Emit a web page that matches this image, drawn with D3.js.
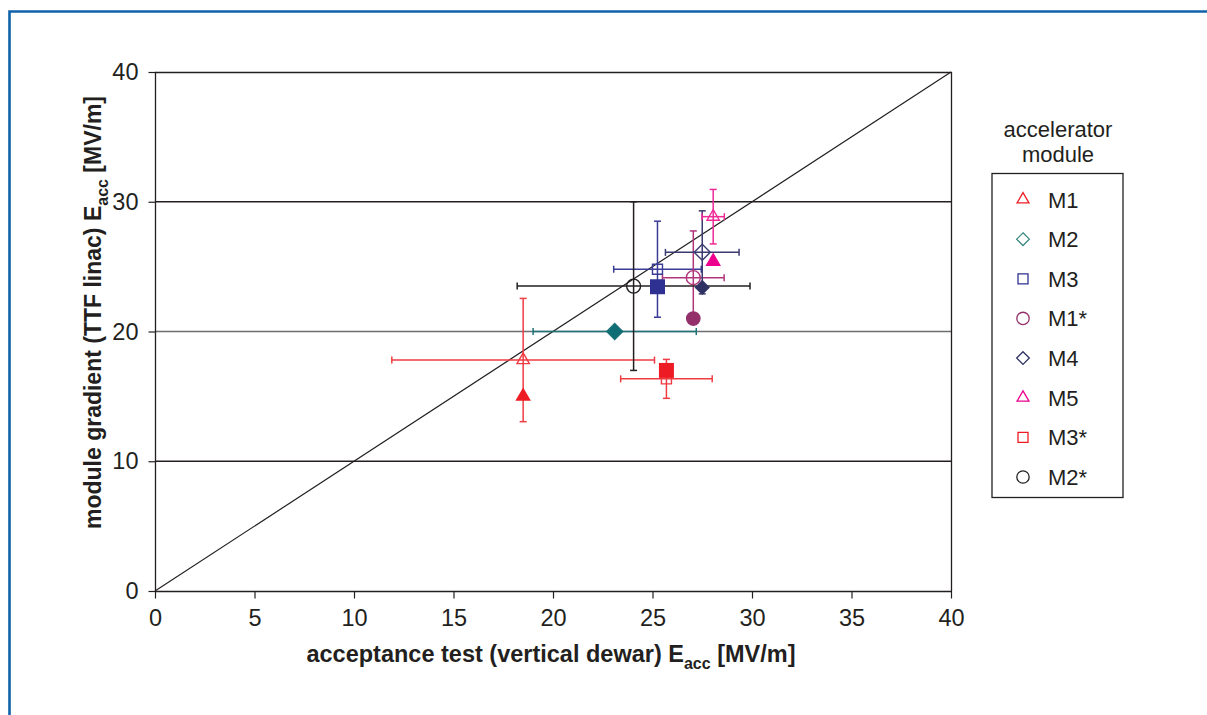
<!DOCTYPE html>
<html>
<head>
<meta charset="utf-8">
<script src="https://cdn.jsdelivr.net/npm/d3@7"></script>
<style>
  html, body { margin: 0; padding: 0; background: #fff; }
  svg { display: block; font-family: "Liberation Sans", Arial, sans-serif; }
</style>
</head>
<body>
<svg id="chart" width="1207" height="715"></svg>
<script>
// Accelerator modules: vertical-dewar acceptance test vs. TTF linac gradient
const modules = ["M1", "M2", "M3", "M1*", "M4", "M5", "M3*", "M2*"];
const shapes = ["triangle", "diamond", "square", "circle", "diamond", "triangle", "square", "circle"];
const colors = ["#ed1c24", "#0f6e74", "#2e3192", "#93306a", "#2f3163", "#ec008c", "#ed1c24", "#231f20"];
const legendColors = ["#ed1c24", "#3b8a80", "#2e3192", "#93306a", "#2f3163", "#ec008c", "#ed1c24", "#231f20"];
const barColors = ["#ef3b42", "#1d7479", "#3a3d98", "#b0357a", "#393b6e", "#ee2a97", "#ef3b42", "#231f20"];

// acceptance test Eacc [MV/m] with spread
const acceptance = [18.5, 23.1, 25.25, 27.05, 27.5, 28.05, 25.7, 24.05];
const acceptanceErr = [6.6, 4.1, 2.2, 1.55, 1.85, 0.56, 2.3, 5.85];
// module gradient in the linac (open markers) with spread
const linacGradient = [17.8, 20.0, 24.8, 24.15, 26.1, 28.85, 16.35, 23.5];
const linacErr = [4.75, 0, 3.7, 3.6, 3.2, 2.1, 1.5, 6.5];
// second linac measurement (filled markers)
const linacFilled = [15.0, 20.0, 23.45, 21.0, 23.4, 25.4, 17.0, null];

const xTicks = [0, 5, 10, 15, 20, 25, 30, 35, 40];
const yTicks = [0, 10, 20, 30, 40];
const gridValues = [10, 20, 30];

const svg = d3.select("#chart");

// page frame
svg.append("path")
  .attr("d", "M9.5,715 L9.5,11.5 L1207,11.5")
  .attr("fill", "none").attr("stroke", "#0f62a8").attr("stroke-width", 2.6);

const plotLeft = 155, plotRight = 951, plotTop = 72, plotBottom = 591;
const x = d3.scaleLinear().domain([0, 40]).range([plotLeft, plotRight]);
const y = d3.scaleLinear().domain([0, 40]).range([plotBottom, plotTop]);

// horizontal grid lines
svg.append("g").selectAll("line").data(gridValues).join("line")
  .attr("x1", plotLeft).attr("x2", plotRight)
  .attr("y1", d => y(d)).attr("y2", d => y(d))
  .attr("stroke", d => d === 20 ? "#6d6e71" : "#231f20").attr("stroke-width", 1.3);

// frame top and right
svg.append("path")
  .attr("d", `M${plotLeft},${plotTop + 0.5} L${plotRight + 0.5},${plotTop + 0.5} L${plotRight + 0.5},${plotBottom}`)
  .attr("fill", "none").attr("stroke", "#231f20").attr("stroke-width", 1.3);

// diagonal y = x
svg.append("line")
  .attr("x1", x(0)).attr("y1", y(0)).attr("x2", x(40)).attr("y2", y(40))
  .attr("stroke", "#231f20").attr("stroke-width", 1.2);

// axes
const xAxis = d3.axisBottom(x).tickValues(xTicks).tickSize(7).tickPadding(11).tickFormat(d3.format("d"));
const yAxis = d3.axisLeft(y).tickValues(yTicks).tickSize(7).tickPadding(10).tickFormat(d3.format("d"));

const gx = svg.append("g").attr("transform", `translate(0,${plotBottom + 0.5})`).call(xAxis);
const gy = svg.append("g").attr("transform", `translate(${plotLeft + 0.5},0)`).call(yAxis);
[gx, gy].forEach(g => {
  g.select(".domain").attr("stroke", "#231f20").attr("stroke-width", 1.3);
  g.selectAll(".tick line").attr("stroke", "#231f20").attr("stroke-width", 1.2);
  g.selectAll(".tick text").attr("fill", "#231f20")
    .style("font-size", "23.5px").style("font-family", "Liberation Sans, Arial, sans-serif");
});
gx.select(".domain").attr("d", `M${plotLeft},0H${plotRight + 1}`);
gy.select(".domain").attr("d", `M0,${plotBottom}V${plotTop}`);

// symbol helper (diamond = square rotated by 45 degrees)
function symbolPath(shape, area) {
  if (shape === "diamond") {
    const h = Math.sqrt(area / 2);
    return `M0,${-h}L${h},0L0,${h}L${-h},0Z`;
  }
  const t = { triangle: d3.symbolTriangle, square: d3.symbolSquare, circle: d3.symbolCircle }[shape];
  return d3.symbol().type(t).size(area)();
}

const openSize = { triangle: 66, diamond: 128, square: 100, circle: 154 };
const filledSize = { triangle: 105, diamond: 118, square: 225, circle: 170 };
const cap = 3.5;

const idx = d3.range(modules.length);

// error bars
const eb = svg.append("g");
idx.forEach(i => {
  const g = eb.append("g").attr("stroke", barColors[i]).attr("stroke-width", 1.5).attr("fill", "none");
  const cx = x(acceptance[i]), cy = y(linacGradient[i]);
  const x0 = x(acceptance[i] - acceptanceErr[i]), x1 = x(acceptance[i] + acceptanceErr[i]);
  g.append("line").attr("x1", x0).attr("x2", x1).attr("y1", cy).attr("y2", cy);
  [x0, x1].forEach(v => g.append("line").attr("x1", v).attr("x2", v).attr("y1", cy - cap).attr("y2", cy + cap));
  if (linacErr[i] > 0) {
    const y0 = y(linacGradient[i] - linacErr[i]), y1 = y(linacGradient[i] + linacErr[i]);
    g.append("line").attr("x1", cx).attr("x2", cx).attr("y1", y0).attr("y2", y1);
    [y0, y1].forEach(v => g.append("line").attr("x1", cx - cap).attr("x2", cx + cap).attr("y1", v).attr("y2", v));
  }
});

// open markers
svg.append("g").selectAll("path").data(idx).join("path")
  .attr("transform", i => `translate(${x(acceptance[i])},${y(linacGradient[i])})`)
  .attr("d", i => symbolPath(shapes[i], openSize[shapes[i]]))
  .attr("fill", "none").attr("stroke", i => barColors[i]).attr("stroke-width", 1.4);

// filled markers
svg.append("g").selectAll("path").data(idx.filter(i => linacFilled[i] !== null)).join("path")
  .attr("transform", i => `translate(${x(acceptance[i])},${y(linacFilled[i])})`)
  .attr("d", i => symbolPath(shapes[i], filledSize[shapes[i]]))
  .attr("fill", i => colors[i]).attr("stroke", "none");

// axis titles
const xt = svg.append("text")
  .attr("x", 551).attr("y", 662).attr("text-anchor", "middle")
  .attr("fill", "#231f20").style("font-size", "23.5px").style("font-weight", "bold");
xt.append("tspan").text("acceptance test (vertical dewar) E");
xt.append("tspan").text("acc").attr("dy", 7).style("font-size", "16px");
xt.append("tspan").text(" [MV/m]").attr("dy", -7);

const yt = svg.append("text")
  .attr("transform", `translate(101,${(plotTop + plotBottom) / 2 - 19}) rotate(-90)`)
  .attr("text-anchor", "middle")
  .attr("fill", "#231f20").style("font-size", "23px").style("font-weight", "bold");
yt.append("tspan").text("module gradient (TTF linac) E");
yt.append("tspan").text("acc").attr("dy", 7).style("font-size", "16px");
yt.append("tspan").text(" [MV/m]").attr("dy", -7);

// legend
const lg = svg.append("g");
lg.append("text").attr("x", 1058).attr("y", 137).attr("text-anchor", "middle")
  .attr("fill", "#231f20").style("font-size", "22px").text("accelerator");
lg.append("text").attr("x", 1058).attr("y", 162).attr("text-anchor", "middle")
  .attr("fill", "#231f20").style("font-size", "22px").text("module");
lg.append("rect").attr("x", 992).attr("y", 173.5).attr("width", 131).attr("height", 324)
  .attr("fill", "none").attr("stroke", "#231f20").attr("stroke-width", 1.3);

const legendSize = { triangle: 62, diamond: 80, square: 100, circle: 120 };
const rowY = d3.scaleLinear().domain([0, 7]).range([199.5, 477]);
const rows = lg.selectAll("g.row").data(idx).join("g").attr("class", "row")
  .attr("transform", i => `translate(0,${rowY(i)})`);
rows.append("path")
  .attr("transform", "translate(1023,0)")
  .attr("d", i => symbolPath(shapes[i], legendSize[shapes[i]]))
  .attr("fill", "none").attr("stroke", i => legendColors[i]).attr("stroke-width", 1.3);
rows.append("text").attr("x", 1048).attr("y", 8)
  .attr("fill", "#231f20").style("font-size", "22px").text(i => modules[i]);
</script>
</body>
</html>
